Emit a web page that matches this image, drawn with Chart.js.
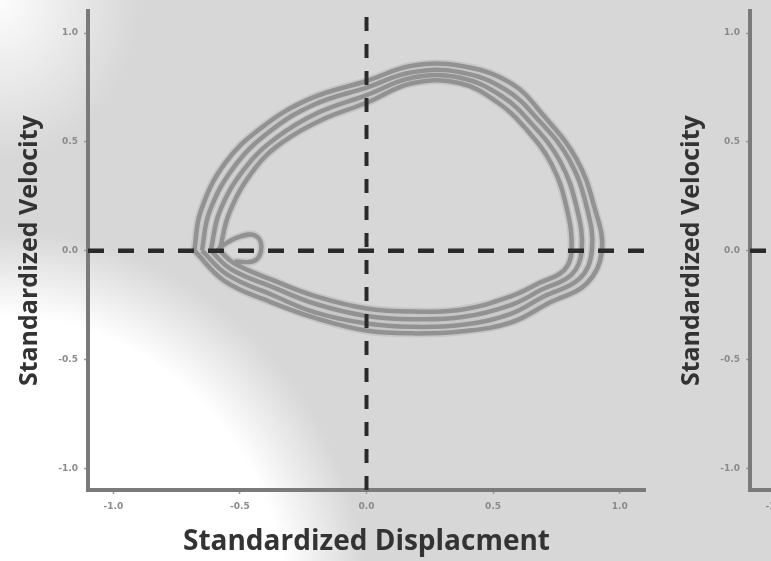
<!DOCTYPE html>
<html>
<head>
<meta charset="utf-8">
<script src="https://cdn.jsdelivr.net/npm/chart.js@4.4.1/dist/chart.umd.min.js"></script>
<style>
  html, body { margin: 0; padding: 0; width: 771px; height: 561px; overflow: hidden; }
  body {
    position: relative;
    background:
      radial-gradient(ellipse 140px 160px at 0px 0px, rgba(255,255,255,0.95), rgba(255,255,255,0) 100%),
      radial-gradient(ellipse 370px 390px at 0px 620px, #fff 0%, #fff 78%, rgba(255,255,255,0) 100%),
      #d7d7d7;
  }
  canvas { position: absolute; top: 0; }
  #left { left: 0; }
  #right { left: 662px; }
</style>
</head>
<body>
<canvas id="left" width="771" height="561"></canvas>
<canvas id="right" width="771" height="561"></canvas>
<script>
// tick values / labels
const xTicks = [-1.0, -0.5, 0.0, 0.5, 1.0];
const yTicks = [-1.0, -0.5, 0.0, 0.5, 1.0];
const xTickLabels = ['-1.0', '-0.5', '0.0', '0.5', '1.0'];
const yTickLabels = ['-1.0', '-0.5', '0.0', '0.5', '1.0'];

// phase loop, several cycles (displacement, velocity)
const cycle1 = [[-0.68,0.00],[-0.655,0.18],[-0.56,0.40],[-0.41,0.57],[-0.22,0.70],[0.00,0.78],[0.18,0.85],[0.37,0.85],[0.57,0.77],[0.70,0.62],[0.83,0.42],[0.90,0.20],[0.93,0.00],[0.87,-0.15],[0.72,-0.24],[0.57,-0.33],[0.38,-0.37],[0.18,-0.38],[0.00,-0.367],[-0.20,-0.31],[-0.38,-0.235],[-0.56,-0.14],[-0.68,0.00]];
const cycle2 = [[-0.65,0.00],[-0.62,0.18],[-0.52,0.39],[-0.38,0.55],[-0.21,0.67],[0.00,0.75],[0.18,0.82],[0.37,0.82],[0.55,0.74],[0.68,0.60],[0.80,0.42],[0.87,0.20],[0.89,0.00],[0.84,-0.13],[0.70,-0.21],[0.57,-0.29],[0.38,-0.34],[0.18,-0.35],[0.00,-0.335],[-0.20,-0.285],[-0.37,-0.205],[-0.55,-0.11],[-0.65,0.00]];
const cycle3 = [[-0.615,0.00],[-0.58,0.18],[-0.48,0.38],[-0.355,0.52],[-0.19,0.635],[0.00,0.715],[0.18,0.795],[0.37,0.795],[0.535,0.71],[0.655,0.58],[0.765,0.41],[0.83,0.20],[0.85,0.00],[0.81,-0.11],[0.69,-0.18],[0.57,-0.25],[0.38,-0.305],[0.18,-0.315],[0.00,-0.30],[-0.20,-0.245],[-0.365,-0.17],[-0.535,-0.085],[-0.615,0.00]];
const cycle4 = [[-0.58,0.00],[-0.54,0.18],[-0.44,0.38],[-0.33,0.50],[-0.18,0.60],[0.00,0.68],[0.18,0.77],[0.37,0.77],[0.52,0.68],[0.63,0.56],[0.73,0.40],[0.79,0.20],[0.81,0.00],[0.78,-0.09],[0.68,-0.15],[0.57,-0.21],[0.38,-0.27],[0.18,-0.28],[0.00,-0.266],[-0.20,-0.21],[-0.36,-0.14],[-0.52,-0.06],[-0.58,0.00]];
const startLoop = [[-0.52,-0.05],[-0.44,-0.045],[-0.415,0.02],[-0.44,0.07],[-0.50,0.065],[-0.56,0.03],[-0.59,0.0]];

// dashed zero lines
const zeroSpan = [-1.1, 1.1];

const pts = arr => arr.map(p => ({ x: p[0], y: p[1] }));

const loops = [cycle1, cycle2, cycle3, cycle4, startLoop];

const crossSets = () => [
  { data: zeroSpan.map(v => ({ x: 0, y: v })), borderColor: '#2a2a2a', borderWidth: 4, borderDash: [14, 13], order: 0 },
  { data: zeroSpan.map(v => ({ x: v, y: 0 })), borderColor: '#2a2a2a', borderWidth: 4.5, borderDash: [16, 14], order: 0 }
];

const loopSets = () => {
  const out = [];
  loops.forEach(c => {
    out.push({ data: pts(c), borderColor: '#c6c6c6', borderWidth: 8, tension: 0.4, order: 2 });
    out.push({ data: pts(c), borderColor: '#929292', borderWidth: 4.5, tension: 0.4, order: 1 });
  });
  return out;
};

const tickFont = { family: 'DejaVu Sans', size: 9, weight: 'bold' };

const makeOptions = () => ({
  responsive: false,
  animation: false,
  showLine: true,
  layout: { padding: { top: 8, right: 126, bottom: 0, left: 0 } },
  elements: { point: { radius: 0 } },
  plugins: { legend: { display: false }, tooltip: { enabled: false } },
  scales: {
    x: {
      type: 'linear', min: -1.1, max: 1.1,
      afterBuildTicks: s => { s.ticks = xTicks.map(v => ({ value: v })); },
      afterFit: s => { s.height = 71; },
      ticks: { callback: (v, i) => xTickLabels[i], font: tickFont, color: '#8a8a8a', padding: 7, maxRotation: 0 },
      grid: { drawOnChartArea: false, tickLength: 4, color: '#9a9a9a', tickWidth: 1.5 },
      border: { color: '#7a7a7a', width: 4 },
      title: { display: true, text: 'Standardized Displacment', color: '#333',
        font: { family: 'Open Sans', size: 28, weight: 'bold' }, padding: { top: 0, bottom: 2 } }
    },
    y: {
      type: 'linear', min: -1.1, max: 1.1,
      afterBuildTicks: s => { s.ticks = yTicks.map(v => ({ value: v })); },
      afterFit: s => { s.width = 88; },
      ticks: { callback: (v, i) => yTickLabels[i], font: tickFont, color: '#8a8a8a', padding: 6 },
      grid: { drawOnChartArea: false, tickLength: 4, color: '#9a9a9a', tickWidth: 1.5 },
      border: { color: '#7a7a7a', width: 4 },
      title: { display: true, text: 'Standardized Velocity', color: '#333',
        font: { family: 'Open Sans', size: 25, weight: 'bold' }, padding: { top: 15, bottom: 0 } }
    }
  }
});

new Chart(document.getElementById('left'), {
  type: 'scatter',
  data: { datasets: [...crossSets(), ...loopSets()] },
  options: makeOptions()
});

new Chart(document.getElementById('right'), {
  type: 'scatter',
  data: { datasets: crossSets() },
  options: makeOptions()
});
</script>
</body>
</html>
